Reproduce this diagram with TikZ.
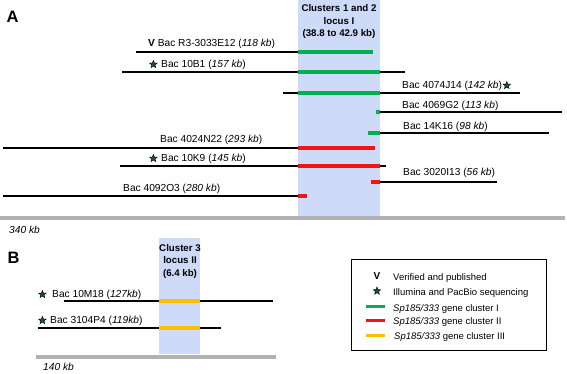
\documentclass[tikz,border=0pt]{standalone}
\usepackage{fontspec}
\setmainfont{Liberation Sans}
\usetikzlibrary{shapes.geometric,positioning}

\definecolor{clgreen}{RGB}{0,176,80}
\definecolor{clred}{RGB}{240,20,20}
\definecolor{clorange}{RGB}{255,190,0}
\definecolor{bandblue}{RGB}{205,218,248}
\definecolor{scalegray}{RGB}{178,178,178}
\definecolor{stargreen}{RGB}{25,85,45}

\begin{document}
\begin{tikzpicture}[x=1pt,y=-1pt,
  bac/.style={line width=2.3pt,black},
  cli/.style={line width=4pt,clgreen},
  clii/.style={line width=4pt,clred},
  cliii/.style={line width=4pt,clorange},
  scalebar/.style={line width=4pt,scalegray},
  lbl/.style={anchor=base west,inner sep=0pt,font=\fontsize{10.2}{12}\selectfont},
  bandtxt/.style={anchor=north,inner sep=0pt,align=center,font=\fontsize{9.7}{12.5}\selectfont\bfseries},
  legtxt/.style={anchor=base west,inner sep=0pt,font=\fontsize{9.5}{11}\selectfont},
  starm/.style={star,star points=5,star point ratio=2.3,draw=black,line width=0.4pt,fill=stargreen,inner sep=0pt,minimum size=8pt},
  panel/.style={inner sep=0pt,font=\fontsize{16.5}{18}\selectfont\bfseries}]
\useasboundingbox (0,0) rectangle (567,373);

% panel A
\node[panel] (pa) at (12.5,16.5) {A};
\fill[bandblue] (298,0) rectangle (380,216);
\node[bandtxt] (loci) at (339,4.5) {Clusters 1 and 2\\locus I\\(38.8 to 42.9 kb)};

\draw[bac] (136,52) -- (298,52);
\draw[cli] (298,52) -- (373,52);
\node[lbl] (r3033) at (148,46) {\textbf{V} Bac R3-3033E12 (\textit{118 kb})};

\draw[bac] (122,72) -- (405,72);
\draw[cli] (298,72) -- (380,72);
\node[lbl] (b10b1) at (161,67) {Bac 10B1 (\textit{157 kb})};
\node[starm,left=5pt of b10b1.west] (s10b1) {};

\draw[bac] (283,93) -- (520,93);
\draw[cli] (298,93) -- (380,93);
\node[lbl] (b4074) at (402,88) {Bac 4074J14 (\textit{142 kb})};
\node[starm,right=2pt of b4074.east] (s4074) {};

\draw[bac] (380,112) -- (562,112);
\draw[cli] (376,112) -- (380,112);
\node[lbl] (b4069) at (402,108) {Bac 4069G2 (\textit{113 kb})};

\draw[bac] (380,133) -- (549,133);
\draw[cli] (368,133) -- (380,133);
\node[lbl] (b14k) at (403,129) {Bac 14K16 (\textit{98 kb})};

\draw[bac] (3,148) -- (298,148);
\draw[clii] (298,148) -- (375,148);
\node[lbl] (b4024) at (160,142) {Bac 4024N22 (\textit{293 kb})};

\draw[bac] (120,166) -- (386,166);
\draw[clii] (298,166) -- (380,166);
\node[lbl] (b10k9) at (161,161) {Bac 10K9 (\textit{145 kb})};
\node[starm,left=5pt of b10k9.west] (s10k9) {};

\draw[bac] (380,182) -- (497,182);
\draw[clii] (371,182) -- (380,182);
\node[lbl] (b3020) at (403,175) {Bac 3020I13 (\textit{56 kb})};

\draw[bac] (3,196) -- (298,196);
\draw[clii] (298,196) -- (307,196);
\node[lbl] (b4092) at (123,191) {Bac 4092O3 (\textit{280 kb})};

\draw[scalebar] (0,218) -- (565,218);
\node[lbl] (sca) at (9,233) {\textit{340 kb}};

% panel B
\node[panel] (pb) at (13.5,258) {B};
\fill[bandblue] (159,238) rectangle (200,354);
\node[bandtxt] (locii) at (180,244) {Cluster 3\\locus II\\(6.4 kb)};

\draw[bac] (64,301) -- (273,301);
\draw[cliii] (159,301) -- (200,301);
\node[lbl] (b10m) at (52,297) {Bac 10M18 (\textit{127kb})};
\node[starm,left=7pt of b10m.west] (s10m) {};

\draw[bac] (38,328) -- (221,328);
\draw[cliii] (159,328) -- (200,328);
\node[lbl] (b3104) at (50,323) {Bac 3104P4 (\textit{119kb})};
\node[starm,left=5pt of b3104.west] (s3104) {};

\draw[scalebar] (36,357) -- (276,357);
\node[lbl] (scb) at (43,370) {\textit{140 kb}};

% legend
\draw[line width=0.8pt] (351,259) rectangle (546,350);
\node[inner sep=0pt,font=\fontsize{10}{12}\selectfont\bfseries] (lv) at (377,276) {V};
\node[legtxt] (lvt) at (393,280) {Verified and published};
\node[starm] (ls) at (377,291) {};
\node[legtxt] (lst) at (393,295) {Illumina and PacBio sequencing};
\draw[cli,line width=3pt] (366,306) -- (385,306);
\node[legtxt] (l1t) at (393,311) {\textit{Sp185/333} gene cluster I};
\draw[clii,line width=3pt] (366,320) -- (385,320);
\node[legtxt] (l2t) at (393,324.5) {\textit{Sp185/333} gene cluster II};
\draw[cliii,line width=3pt] (366,335) -- (385,335);
\node[legtxt] (l3t) at (394,339) {\textit{Sp185/333} gene cluster III};
\end{tikzpicture}
\end{document}
